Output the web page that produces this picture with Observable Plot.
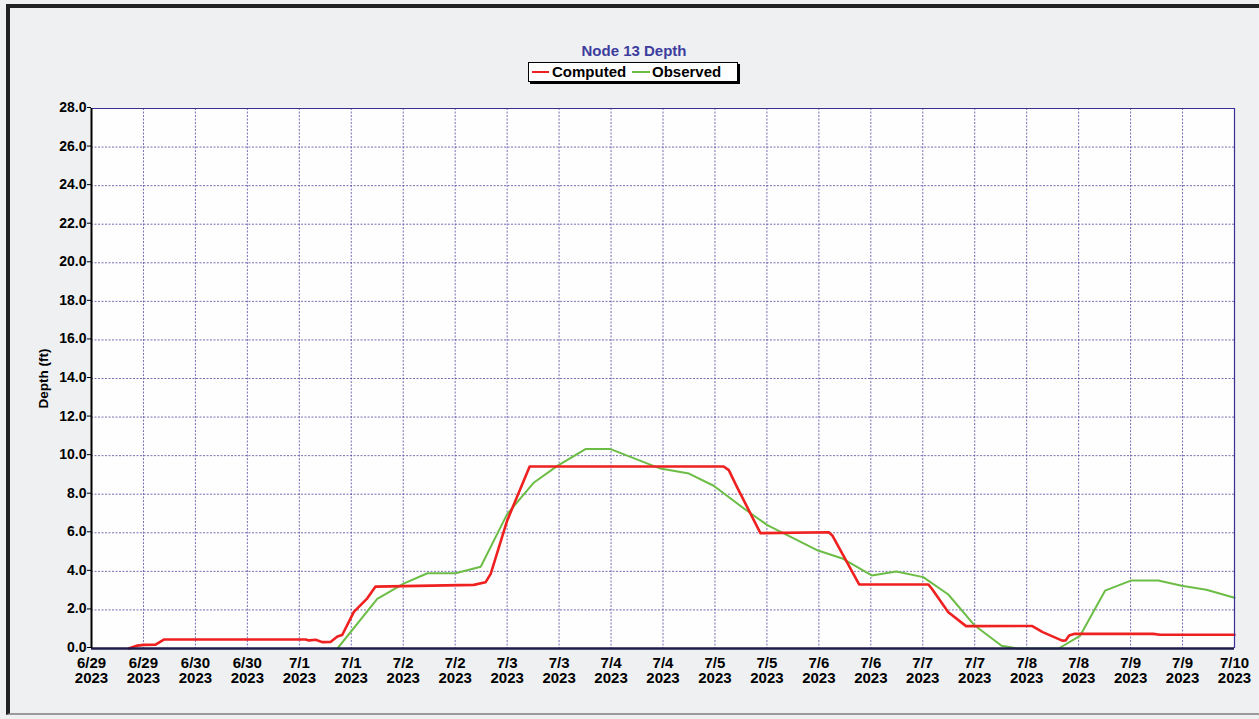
<!DOCTYPE html>
<html>
<head>
<meta charset="utf-8">
<script src="https://cdn.jsdelivr.net/npm/d3@7"></script>
<script src="https://cdn.jsdelivr.net/npm/@observablehq/plot@0.6"></script>
<style>
  html, body { margin: 0; padding: 0; background: #eef0f2; }
  #wrap { position: relative; width: 1259px; height: 719px; overflow: hidden; background: #eef0f2;
          font-family: "Liberation Sans", Arial, sans-serif; }
  #border { position: absolute; left: 6px; top: 4px; width: 1260px; height: 711px;
            border-left: 4px solid #222; border-top: 4px solid #222; border-bottom: 2px solid #9a9a9a; box-sizing: border-box; }
  #chart { position: absolute; left: 0; top: 0; }
  #title { position: absolute; left: 534px; width: 200px; top: 43px; text-align: center;
           font-size: 15px; line-height: 15px; font-weight: bold; color: #3d3d9e; }
  #legend { position: absolute; left: 528px; top: 62px; width: 208px; height: 18px;
            background: #fff; border: 1px solid #000; box-shadow: 2px 2px 0 #000; }
  #legend .sw { position: absolute; top: 8px; height: 2px; }
  #legend .lb { position: absolute; top: 0; font-size: 15px; line-height: 17px; font-weight: bold; color: #000; white-space: nowrap; }
</style>
</head>
<body>
<div id="wrap">
  <div id="border"></div>
  <div id="chart"></div>
  <div id="title"></div>
  <div id="legend"></div>
</div>
<script>
// ---- Data (hours since 6/29/2023 00:00, depth in ft) ----
const titleText = "Node 13 Depth";
const yLabel = "Depth (ft)";
const seriesNames = ["Computed", "Observed"];
const seriesColors = ["#ee2020", "#6cbd45"];

const dateLabels = ["6/29","6/29","6/30","6/30","7/1","7/1","7/2","7/2","7/3","7/3","7/4","7/4",
                    "7/5","7/5","7/6","7/6","7/7","7/7","7/8","7/8","7/9","7/9","7/10"];
const yearLabel = "2023";
const xTickHours = [0,12,24,36,48,60,72,84,96,108,120,132,144,156,168,180,192,204,216,228,240,252,264];
const yTickValues = [0,2,4,6,8,10,12,14,16,18,20,22,24,26,28];

const computedHours = [8.6,10.6,12.1,14.8,16.8,49.5,50.2,51.8,53.3,55.2,56.8,57.9,60.6,63.7,65.6,88.3,91.0,92.2,96.0,101.2,
                       146.0,147.2,148.9,154.5,170.3,171.1,177.3,193.3,194.1,197.9,202.0,217.2,219.7,224.2,225.0,225.8,227.1,245.2,246.8,264];
const computedDepth = [0,0.15,0.19,0.2,0.47,0.47,0.42,0.45,0.33,0.34,0.62,0.7,1.9,2.6,3.21,3.3,3.43,3.87,6.63,9.44,
                       9.44,9.25,8.46,5.98,6.03,5.86,3.32,3.32,3.1,1.88,1.16,1.17,0.85,0.41,0.42,0.67,0.76,0.76,0.71,0.71];

const observedHours = [56.8,66.0,72.2,77.6,84.1,89.9,96.0,102.2,107.6,114.1,119.9,131.4,138.0,143.7,151.4,156.1,167.8,
                       173.6,180.2,185.9,192.1,197.9,204.0,210.2,213.9,223.4,228.3,234.1,240.2,246.4,251.8,257.5,264];
const observedDepth = [0,2.57,3.38,3.9,3.9,4.24,6.97,8.61,9.47,10.34,10.34,9.33,9.07,8.44,7.14,6.4,5.08,
                       4.65,3.79,3.99,3.7,2.8,1.19,0.14,0,0,0.65,3.0,3.53,3.53,3.25,3.05,2.63];

const computed = computedHours.map((h, i) => ({hour: h, depth: computedDepth[i]}));
const observed = observedHours.map((h, i) => ({hour: h, depth: observedDepth[i]}));

const font = "'Liberation Sans', Arial, sans-serif";
const gridColor = "#4a3d9c";

const chart = Plot.plot({
  width: 1259,
  height: 719,
  marginLeft: 91,
  marginRight: 25,
  marginTop: 108,
  marginBottom: 71,
  style: {background: "transparent", fontFamily: font, fontSize: "14px", fontWeight: "bold", color: "#000"},
  x: {domain: [0, 264], axis: null},
  y: {domain: [0, 28], axis: null},
  marks: [
    Plot.frame({fill: "#fefefe", stroke: null}),
    Plot.ruleX(xTickHours, {stroke: gridColor, strokeOpacity: 0.75, strokeDasharray: "2,1.5", strokeWidth: 1}),
    Plot.ruleY(yTickValues, {stroke: gridColor, strokeOpacity: 0.75, strokeDasharray: "2,1.5", strokeWidth: 1}),
    Plot.line(observed, {x: "hour", y: "depth", stroke: seriesColors[1], strokeWidth: 2}),
    Plot.line(computed, {x: "hour", y: "depth", stroke: seriesColors[0], strokeWidth: 2.6}),
    Plot.ruleX([264], {stroke: "#3a2f95", strokeWidth: 1.2}),
    Plot.ruleY([28], {stroke: "#3a2f95", strokeWidth: 1.2}),
    Plot.ruleY([0], {stroke: "#1e1c4a", strokeWidth: 2.5}),
    Plot.ruleX([0], {stroke: "#000", strokeWidth: 2}),
    Plot.axisY(yTickValues, {
      anchor: "left", tickSize: 4, tickPadding: 1, label: null, dy: -1,
      tickFormat: d => d.toFixed(1), fontSize: 14, fontWeight: "bold", fill: "#000"
    }),
    Plot.axisX(xTickHours, {
      anchor: "bottom", tickSize: 0, tickPadding: 8, label: null, lineHeight: 1.05,
      tickFormat: d => dateLabels[Math.round(d / 12)] + "\n" + yearLabel,
      fontSize: 15, fontWeight: "bold", fill: "#000"
    }),
    Plot.text([yLabel], {
      frameAnchor: "left", dx: -48, rotate: -90, text: d => d, textAnchor: "middle",
      fontSize: 13.5, fontWeight: "bold", fill: "#000"
    })
  ]
});
document.getElementById("chart").appendChild(chart);

document.getElementById("title").textContent = titleText;
const legend = document.getElementById("legend");
const swLeft = [3, 103], swWidth = [17, 18], lbLeft = [23, 123];
seriesNames.forEach((name, i) => {
  const sw = document.createElement("div");
  sw.className = "sw";
  sw.style.left = swLeft[i] + "px";
  sw.style.width = swWidth[i] + "px";
  sw.style.background = seriesColors[i];
  legend.appendChild(sw);
  const lb = document.createElement("div");
  lb.className = "lb";
  lb.style.left = lbLeft[i] + "px";
  lb.textContent = name;
  legend.appendChild(lb);
});
</script>
</body>
</html>
